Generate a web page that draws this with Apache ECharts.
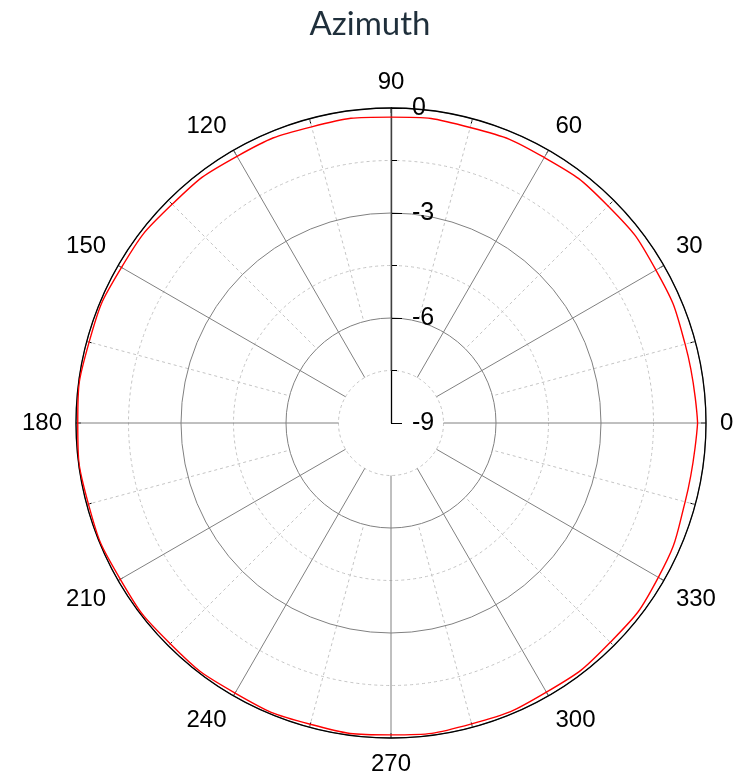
<!DOCTYPE html>
<html>
<head>
<meta charset="utf-8">
<script src="https://cdn.jsdelivr.net/npm/echarts@6/dist/echarts.min.js"></script>
<style>html,body{margin:0;padding:0;background:#fff}#c{width:740px;height:783px}</style>
</head>
<body>
<div id="c"></div>
<script>
// Angles (degrees) and measured gain (dB)
var angles = [0, 15, 30, 45, 60, 75, 90, 105, 120, 135, 150, 165, 180, 195, 210, 225, 240, 255, 270, 285, 300, 315, 330, 345, 360];
var gain = [-0.24, -0.30, -0.26, -0.23, -0.24, -0.26, -0.26, -0.24, -0.20, -0.16, -0.11, -0.07, -0.05, -0.05, -0.07, -0.08, -0.09, -0.09, -0.09, -0.10, -0.12, -0.14, -0.18, -0.30, -0.24];
var radiusTicks = [-9, -6, -3, 0];
var angleTicks = [0, 30, 60, 90, 120, 150, 180, 210, 240, 270, 300, 330];

var data = angles.map(function (a, i) { return [gain[i], a]; });
var C = [391, 423];
var R = 315;
var pxPerDb = R / 9;

var chart = echarts.init(document.getElementById('c'));
chart.setOption({
  animation: false,
  title: {
    text: 'Azimuth', left: 'center', top: 3,
    textStyle: { fontFamily: 'Lato, sans-serif', fontSize: 33, fontWeight: 'normal', color: '#1f2f3b' }
  },
  polar: [
    { center: C, radius: [R - 7.5 * pxPerDb, R] },
    { center: C, radius: [0, R] },
    { center: C, radius: [R - 6 * pxPerDb, R] }
  ],
  angleAxis: [
    {
      polarIndex: 0, type: 'value', min: 0, max: 360, interval: 30, startAngle: 0, clockwise: false, z: 5,
      axisLine: { show: false },
      axisTick: { show: true, inside: true, length: 5, lineStyle: { color: '#000' } },
      axisLabel: {
        margin: 14, fontFamily: 'Liberation Sans, Arial, sans-serif', fontSize: 24, color: '#000',
        formatter: function (v) { return angleTicks.indexOf(v) >= 0 ? String(v) : ''; }
      },
      splitLine: { lineStyle: { color: '#808080', width: 1 } }
    },
    {
      polarIndex: 1, type: 'value', min: 0, max: 360, startAngle: 90, clockwise: false, z: 6,
      axisLine: { show: true, lineStyle: { color: '#000', width: 1.3 } },
      axisTick: { show: false }, axisLabel: { show: false }, splitLine: { show: false }
    },
    {
      polarIndex: 2, type: 'value', min: 0, max: 360, interval: 30, startAngle: 15, clockwise: false,
      axisLine: { show: false }, axisLabel: { show: false },
      axisTick: { show: true, inside: true, length: 5, lineStyle: { color: '#000' } },
      splitLine: { lineStyle: { color: '#c4c4c4', width: 1, type: [3, 3] } }
    }
  ],
  radiusAxis: [
    { polarIndex: 0, type: 'value', min: -7.5, max: 0, show: false },
    {
      polarIndex: 1, type: 'value', min: -9, max: 0, interval: 3, z: 4,
      axisLine: { lineStyle: { color: '#000', width: 1.3 } },
      axisTick: { show: true, length: -11, lineStyle: { color: '#000' } },
      minorTick: { show: true, splitNumber: 2, length: -6, lineStyle: { color: '#000' } },
      axisLabel: {
        margin: -21, align: 'left', verticalAlign: 'middle',
        fontFamily: 'Liberation Sans, Arial, sans-serif', fontSize: 25, color: '#000',
        formatter: function (v) { return radiusTicks.indexOf(v) >= 0 ? String(v) : ''; }
      },
      splitLine: { lineStyle: { color: '#808080', width: 1 } },
      minorSplitLine: { show: true, lineStyle: { color: '#c4c4c4', width: 1, type: [3, 3] } }
    },
    { polarIndex: 2, type: 'value', min: -6, max: 0, show: false }
  ],
  series: [{
    type: 'line', coordinateSystem: 'polar', polarIndex: 0,
    data: data, showSymbol: false, symbol: 'none', smooth: 0.5, z: 10,
    lineStyle: { color: '#ff0000', width: 1.4 }
  }]
});
</script>
</body>
</html>
